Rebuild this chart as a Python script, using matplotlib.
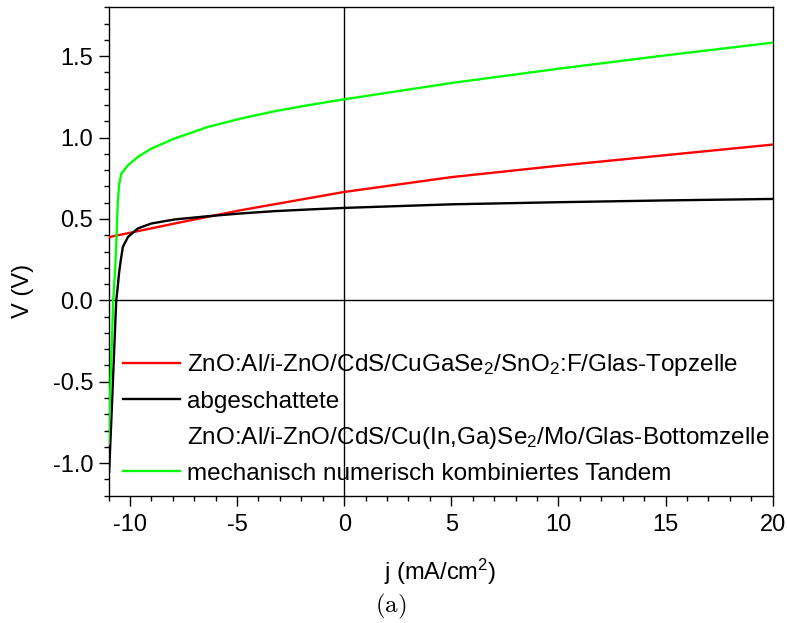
import matplotlib
matplotlib.use("Agg")
import matplotlib.pyplot as plt
from matplotlib.lines import Line2D
from matplotlib.ticker import MultipleLocator

plt.rcParams['font.family'] = ['Liberation Sans', 'DejaVu Sans']
plt.rcParams['mathtext.fontset'] = 'custom'
plt.rcParams['mathtext.rm'] = 'Liberation Sans'
plt.rcParams['mathtext.it'] = 'Liberation Sans:italic'

# Top cell (CGS on SnO2:F glass)
j_top = [-11.0, -7.92, -4.82, -1.72, 0.0, 5.0, 10.0, 15.0, 20.0]
v_top = [0.388, 0.472, 0.554, 0.626, 0.666, 0.757, 0.827, 0.892, 0.957]

# Shaded CIGS bottom cell
j_bot = [-10.97, -10.85, -10.64, -10.58, -10.51, -10.43, -10.33, -10.09, -9.63,
         -9.01, -7.92, -6.37, -4.82, -3.27, -1.72, 0.0, 5.0, 10.0, 15.0, 20.0]
v_bot = [-1.05, -0.673, 0.0, 0.07, 0.166, 0.245, 0.329, 0.390, 0.442,
         0.472, 0.497, 0.517, 0.534, 0.548, 0.558, 0.568, 0.590, 0.603, 0.614, 0.623]

# Mechanically stacked tandem (sum of both voltages)
j_tan = [-11.0, -10.95, -10.78, -10.70, -10.63, -10.57, -10.50, -10.40, -10.09,
         -9.63, -9.01, -7.92, -6.37, -4.82, -3.27, -1.72, 0.0, 5.0, 10.0, 15.0, 20.0]
v_tan = [-0.88, -0.673, 0.0, 0.17, 0.37, 0.60, 0.715, 0.779, 0.830,
         0.881, 0.932, 0.994, 1.065, 1.117, 1.161, 1.198, 1.235, 1.335, 1.423, 1.505, 1.583]

labels = [
    r'ZnO:Al/i-ZnO/CdS/CuGaSe$_2$/SnO$_2$:F/Glas-Topzelle',
    'abgeschattete',
    r'ZnO:Al/i-ZnO/CdS/Cu(In,Ga)Se$_2$/Mo/Glas-Bottomzelle',
    'mechanisch numerisch kombiniertes Tandem',
]

fig = plt.figure(figsize=(7.87, 6.23), dpi=100)
ax = fig.add_axes([0.1379, 0.2043, 0.8439, 0.7839])

ax.axhline(0, color='black', lw=1.0, zorder=1)
ax.axvline(0, color='black', lw=1.0, zorder=1)

ax.plot(j_top, v_top, color='#ff0000', lw=1.7, zorder=3)
ax.plot(j_bot, v_bot, color='black', lw=1.7, zorder=3)
ax.plot(j_tan, v_tan, color='#00ff00', lw=1.7, zorder=3)

ax.set_xlim(-11, 20)
ax.set_ylim(-1.2, 1.8)
ax.xaxis.set_minor_locator(MultipleLocator(1))
ax.yaxis.set_minor_locator(MultipleLocator(0.1))
ax.set_yticks([-1.0, -0.5, 0.0, 0.5, 1.0, 1.5])
ax.set_yticklabels(['-1.0', '-0.5', '0.0', '0.5', '1.0', '1.5'])
ax.set_xticks([-10, -5, 0, 5, 10, 15, 20])
ax.set_xticklabels(['-10', '-5', '0', '5', '10', '15', '20'])

ax.tick_params(which='major', direction='out', length=7, width=1.0,
               labelsize=17, pad=4)
ax.tick_params(axis='x', which='major', pad=6)
ax.tick_params(which='minor', direction='out', length=3.6, width=1.0)
for s in ax.spines.values():
    s.set_linewidth(1.0)

ax.set_xlabel(r'j (mA/cm$^2$)', fontsize=17)
ax.set_ylabel('V (V)', fontsize=17)
ax.xaxis.set_label_coords(0.5, -0.125)
ax.yaxis.set_label_coords(-0.112, 0.42)

handles = [
    Line2D([], [], color='#ff0000', lw=1.7),
    Line2D([], [], color='black', lw=1.7),
    Line2D([], [], color='none', lw=1.7),
    Line2D([], [], color='#00ff00', lw=1.7),
]
ax.legend(handles, labels, loc='lower left', bbox_to_anchor=(0.0218, 0.022),
          frameon=False, fontsize=17.5, handlelength=2.35, handletextpad=0.28,
          labelspacing=0.5, borderpad=0, borderaxespad=0)

fig.text(0.497, 0.026, r'$\mathrm{(a)}$', math_fontfamily='cm',
         fontsize=18, ha='center', va='center')

fig.savefig('out.png', dpi=100)
